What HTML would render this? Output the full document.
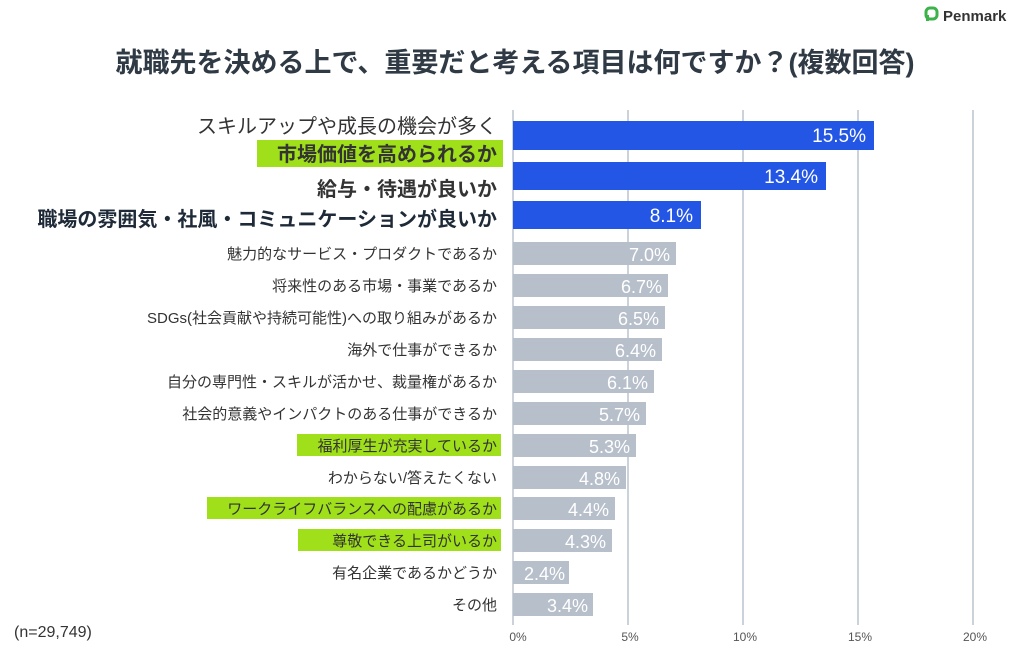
<!DOCTYPE html>
<html><head><meta charset="utf-8"><style>
body{margin:0;background:#fff;width:1024px;height:646px;overflow:hidden}
text{font-family:"Liberation Sans","Noto Sans CJK JP",sans-serif}
</style></head><body>
<svg width="1024" height="646" viewBox="0 0 1024 646" xmlns="http://www.w3.org/2000/svg">
<g>
<rect x="926" y="8" width="11" height="11" rx="4" fill="none" stroke="#3cb34a" stroke-width="3"/>
<rect x="926" y="15" width="3" height="6" fill="#3cb34a"/>
<text x="943" y="21" font-size="15" font-weight="bold" fill="#333">Penmark</text>
</g>
<text x="515" y="72" text-anchor="middle" font-size="27" font-weight="bold" fill="#2f3a45">就職先を決める上で、重要だと考える項目は何ですか？(複数回答)</text>
<g stroke="#a9b4c2" stroke-width="1.2">
<line x1="513" y1="110" x2="513" y2="625"/><line x1="628" y1="110" x2="628" y2="625"/><line x1="743" y1="110" x2="743" y2="625"/><line x1="858" y1="110" x2="858" y2="625"/><line x1="973" y1="110" x2="973" y2="625"/>
</g>
<g font-size="12" fill="#555" text-anchor="middle">
<text x="518" y="641">0%</text><text x="630" y="641">5%</text><text x="745" y="641">10%</text><text x="860" y="641">15%</text><text x="975" y="641">20%</text>
</g>
<g fill="#2456e6">
<rect x="513" y="121" width="361" height="29"/>
<rect x="513" y="162" width="313" height="28"/>
<rect x="513" y="201" width="188" height="28"/>
</g>
<g fill="#fff" font-size="19" text-anchor="end">
<text x="866" y="142">15.5%</text><text x="818" y="183">13.4%</text><text x="693" y="222">8.1%</text>
</g>
<g fill="#b7bfcb">
<rect x="513" y="242" width="163" height="23"/>
<rect x="513" y="274" width="155" height="23"/>
<rect x="513" y="306" width="152" height="23"/>
<rect x="513" y="338" width="149" height="23"/>
<rect x="513" y="370" width="141" height="23"/>
<rect x="513" y="402" width="133" height="23"/>
<rect x="513" y="434" width="123" height="23"/>
<rect x="513" y="466" width="113" height="23"/>
<rect x="513" y="497" width="102" height="23"/>
<rect x="513" y="529" width="99" height="23"/>
<rect x="513" y="561" width="56" height="23"/>
<rect x="513" y="593" width="80" height="23"/>
</g>
<g fill="#fff" font-size="18" text-anchor="end">
<text x="670" y="261">7.0%</text><text x="662" y="293">6.7%</text><text x="659" y="325">6.5%</text><text x="656" y="357">6.4%</text><text x="648" y="389">6.1%</text><text x="640" y="421">5.7%</text><text x="630" y="453">5.3%</text><text x="620" y="485">4.8%</text><text x="609" y="516">4.4%</text><text x="606" y="548">4.3%</text><text x="565" y="580">2.4%</text><text x="588" y="612">3.4%</text>
</g>
<g fill="#9fe01a">
<rect x="257" y="140" width="246" height="27"/>
<rect x="297" y="434" width="204" height="22"/>
<rect x="207" y="497" width="294" height="22"/>
<rect x="298" y="529" width="203" height="22"/>
</g>
<g text-anchor="end" fill="#333">
<text x="497" y="133" font-size="20">スキルアップや成長の機会が多く</text>
<text x="497" y="161" font-size="20" font-weight="bold">市場価値を高められるか</text>
<text x="497" y="196" font-size="20" font-weight="bold">給与・待遇が良いか</text>
<text x="497" y="226" font-size="20" font-weight="bold" fill="#1e2a38">職場の雰囲気・社風・コミュニケーションが良いか</text>
</g>
<g text-anchor="end" fill="#333" font-size="15">
<text x="497" y="259">魅力的なサービス・プロダクトであるか</text>
<text x="497" y="291">将来性のある市場・事業であるか</text>
<text x="497" y="323">SDGs(社会貢献や持続可能性)への取り組みがあるか</text>
<text x="497" y="355">海外で仕事ができるか</text>
<text x="497" y="387">自分の専門性・スキルが活かせ、裁量権があるか</text>
<text x="497" y="419">社会的意義やインパクトのある仕事ができるか</text>
<text x="497" y="451">福利厚生が充実しているか</text>
<text x="497" y="483">わからない/答えたくない</text>
<text x="497" y="514">ワークライフバランスへの配慮があるか</text>
<text x="497" y="546">尊敬できる上司がいるか</text>
<text x="497" y="578">有名企業であるかどうか</text>
<text x="497" y="610">その他</text>
</g>
<text x="14" y="637" font-size="16" fill="#333">(n=29,749)</text>
</svg>
</body></html>
